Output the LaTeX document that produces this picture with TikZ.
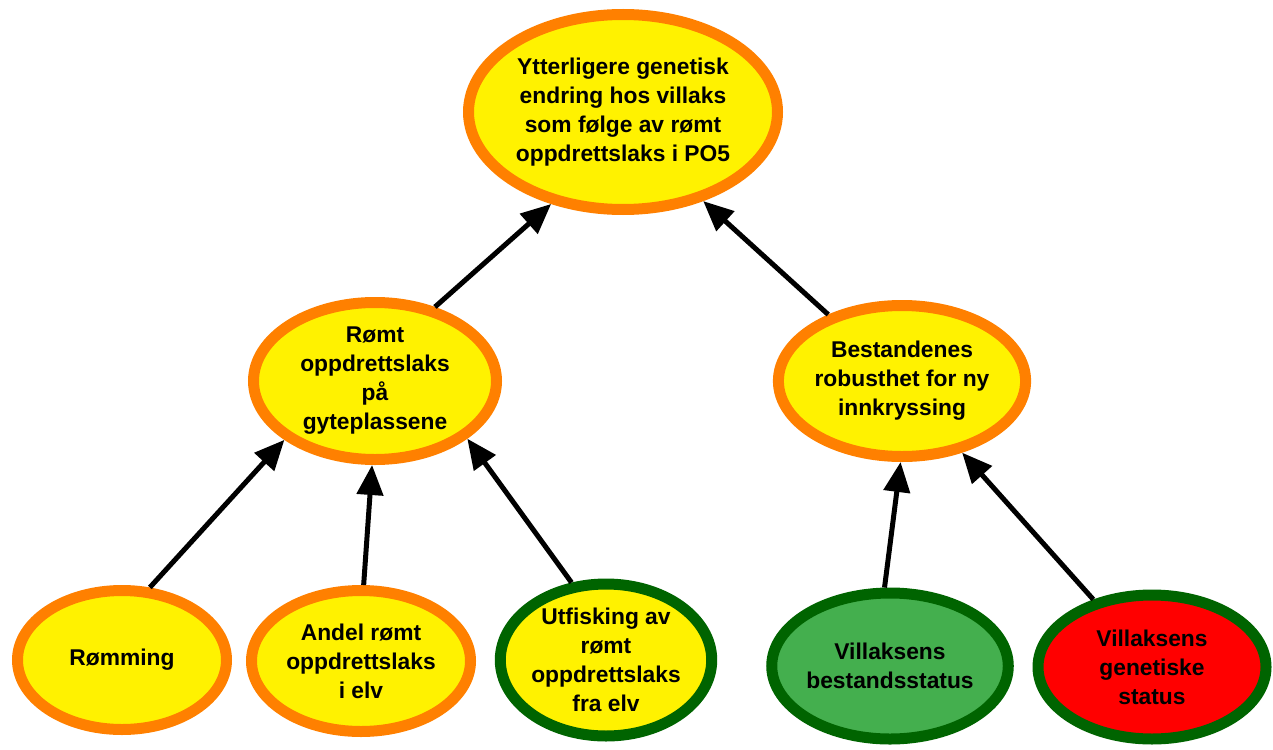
\documentclass[tikz,border=0pt]{standalone}
\usepackage{fontspec}
\setmainfont{Liberation Sans}
\usetikzlibrary{shapes.geometric,arrows.meta}
\definecolor{riskyellow}{HTML}{FFF200}
\definecolor{riskorange}{HTML}{FF8000}
\definecolor{goodgreen}{HTML}{006400}
\definecolor{statusgreen}{HTML}{44AF4E}
\definecolor{statusred}{HTML}{FF0000}

\begin{document}
\begin{tikzpicture}[
    x=1pt, y=-1pt,
    every node/.style={ellipse, line width=11pt, inner sep=0pt, align=center,
      font=\bfseries\fontsize{22.8}{29}\selectfont},
    orangenode/.style={draw=riskorange, fill=riskyellow},
    greennode/.style={draw=goodgreen, fill=riskyellow},
    arrow/.style={-{Triangle[length=30pt,width=26pt]}, line width=5pt}
]
    \useasboundingbox (0,0) rectangle (1273,749);

    \node[orangenode, minimum width=309pt, minimum height=195pt] (endring) at (623,112)
      {Ytterligere genetisk\\endring hos villaks\\som følge av rømt\\oppdrettslaks i PO5};
    \node[orangenode, minimum width=243pt, minimum height=157pt] (gyte) at (375,381)
      {Rømt\\oppdrettslaks\\på\\gyteplassene};
    \node[orangenode, minimum width=243pt, minimum height=151pt] (robust) at (902,381)
      {Bestandenes\\robusthet for ny\\innkryssing};

    \node[orangenode, minimum width=209pt, minimum height=139pt] (romming) at (122,660)
      {Rømming};
    \node[orangenode, minimum width=219pt, minimum height=141pt] (andel) at (361,661)
      {Andel rømt\\oppdrettslaks\\i elv};
    \node[greennode, minimum width=210pt, minimum height=152pt] (utfisking) at (606,660)
      {Utfisking av\\rømt\\oppdrettslaks\\fra elv};
    \node[draw=goodgreen, fill=statusgreen, minimum width=232pt, minimum height=146pt] (bestand) at (890,666)
      {Villaksens\\bestandsstatus};
    \node[draw=goodgreen, fill=statusred, minimum width=228pt, minimum height=144pt] (genetisk) at (1152,667)
      {Villaksens\\genetiske\\status};

    \draw[arrow] (gyte.51) -- (endring.232);
    \draw[arrow] (robust.138) -- (endring.312);
    \draw[arrow] (romming.69) -- (gyte.213);
    \draw[arrow] (andel.88) -- (gyte.268);
    \draw[arrow] (utfisking.114) -- (gyte.328);
    \draw[arrow] (bestand.94) -- (robust.269);
    \draw[arrow] (genetisk.131) -- (robust.310);
\end{tikzpicture}
\end{document}
